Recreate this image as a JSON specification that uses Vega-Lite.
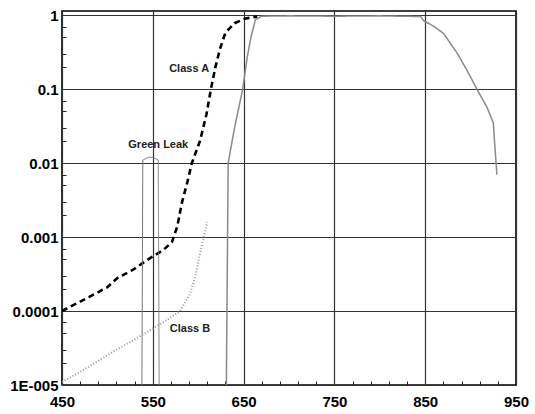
{
  "$schema": "https://vega.github.io/schema/vega-lite/v6.json",
  "width": 454,
  "height": 374,
  "autosize": {"type": "none"},
  "padding": {"left": 62, "top": 11, "right": 19, "bottom": 29},
  "background": "white",
  "config": {
    "view": {"stroke": "black", "strokeWidth": 1.6},
    "axis": {
      "labelFont": "Liberation Sans",
      "labelFontWeight": "bold",
      "labelFontSize": 15,
      "labelColor": "black",
      "gridColor": "#333",
      "gridWidth": 1.2,
      "domain": false,
      "ticks": true,
      "tickColor": "#222",
      "tickWidth": 1,
      "tickSize": -4,
      "tickCount": 40,
      "labelOverlap": false,
      "title": null
    }
  },
  "datasets": {
    "curves": [
      {"curve": "A", "nm": 450, "t": 0.0001},
      {"curve": "A", "nm": 465, "t": 0.000125},
      {"curve": "A", "nm": 480, "t": 0.000155},
      {"curve": "A", "nm": 500, "t": 0.00021},
      {"curve": "A", "nm": 511, "t": 0.00028},
      {"curve": "A", "nm": 528, "t": 0.00036},
      {"curve": "A", "nm": 547, "t": 0.00052},
      {"curve": "A", "nm": 561, "t": 0.00066},
      {"curve": "A", "nm": 571, "t": 0.00085},
      {"curve": "A", "nm": 577, "t": 0.0014},
      {"curve": "A", "nm": 582, "t": 0.0029},
      {"curve": "A", "nm": 588, "t": 0.0055},
      {"curve": "A", "nm": 593, "t": 0.01},
      {"curve": "A", "nm": 602, "t": 0.02},
      {"curve": "A", "nm": 609, "t": 0.045},
      {"curve": "A", "nm": 614, "t": 0.1},
      {"curve": "A", "nm": 619, "t": 0.2},
      {"curve": "A", "nm": 624, "t": 0.35},
      {"curve": "A", "nm": 630, "t": 0.58},
      {"curve": "A", "nm": 640, "t": 0.78},
      {"curve": "A", "nm": 652, "t": 0.9},
      {"curve": "A", "nm": 665, "t": 0.96},
      {"curve": "B1", "nm": 450, "t": 0.000011},
      {"curve": "B1", "nm": 470, "t": 0.000015},
      {"curve": "B1", "nm": 492, "t": 0.000022},
      {"curve": "B1", "nm": 510, "t": 0.00003},
      {"curve": "B1", "nm": 528, "t": 0.00004},
      {"curve": "B1", "nm": 547, "t": 0.000055},
      {"curve": "B1", "nm": 565, "t": 0.000075},
      {"curve": "B1", "nm": 580, "t": 0.0001},
      {"curve": "B1", "nm": 591, "t": 0.00017},
      {"curve": "B1", "nm": 597, "t": 0.0003},
      {"curve": "B1", "nm": 602, "t": 0.0006},
      {"curve": "B1", "nm": 607, "t": 0.0011},
      {"curve": "B1", "nm": 610, "t": 0.0016},
      {"curve": "B2", "nm": 631, "t": 0.00001},
      {"curve": "B2", "nm": 633, "t": 0.01},
      {"curve": "B2", "nm": 640, "t": 0.03},
      {"curve": "B2", "nm": 649, "t": 0.1},
      {"curve": "B2", "nm": 654, "t": 0.27},
      {"curve": "B2", "nm": 658, "t": 0.5},
      {"curve": "B2", "nm": 663, "t": 0.87},
      {"curve": "B2", "nm": 670, "t": 0.97},
      {"curve": "B2", "nm": 700, "t": 0.98},
      {"curve": "B2", "nm": 750, "t": 0.97},
      {"curve": "B2", "nm": 800, "t": 0.98},
      {"curve": "B2", "nm": 845, "t": 0.96},
      {"curve": "B2", "nm": 848, "t": 0.85},
      {"curve": "B2", "nm": 860, "t": 0.7},
      {"curve": "B2", "nm": 870, "t": 0.57},
      {"curve": "B2", "nm": 885, "t": 0.31},
      {"curve": "B2", "nm": 896, "t": 0.18},
      {"curve": "B2", "nm": 907, "t": 0.1},
      {"curve": "B2", "nm": 918, "t": 0.057},
      {"curve": "B2", "nm": 925, "t": 0.035},
      {"curve": "B2", "nm": 927, "t": 0.015},
      {"curve": "B2", "nm": 929, "t": 0.007},
      {"curve": "G", "nm": 538, "t": 0.00001},
      {"curve": "G", "nm": 539, "t": 0.011},
      {"curve": "G", "nm": 545, "t": 0.012},
      {"curve": "G", "nm": 550, "t": 0.012},
      {"curve": "G", "nm": 556, "t": 0.011},
      {"curve": "G", "nm": 557, "t": 0.00001}
    ],
    "labels": [
      {"text": "Class A", "nm": 590, "t": 0.186},
      {"text": "Green Leak", "nm": 556, "t": 0.0175},
      {"text": "Class B", "nm": 591, "t": 0.000057}
    ]
  },
  "layer": [
    {
      "data": {"name": "curves"},
      "mark": {"type": "line", "clip": true, "strokeJoin": "miter"},
      "encoding": {
        "x": {
          "field": "nm", "type": "quantitative",
          "scale": {"domain": [450, 950], "nice": false},
          "axis": {
            "values": [450, 470, 490, 510, 530, 550, 570, 590, 610, 630, 650, 670, 690, 710, 730, 750, 770, 790, 810, 830, 850, 870, 890, 910, 930, 950],
            "labelPadding": 13, "labelFlush": false,
            "labelExpr": "indexof([450, 550, 650, 750, 850, 950], datum.value) >= 0 ? datum.label : ''",
            "gridOpacity": {"condition": {"test": "indexof([450, 550, 650, 750, 850, 950], datum.value) >= 0", "value": 1}, "value": 0},
            "tickOpacity": {"condition": {"test": "indexof([450, 550, 650, 750, 850, 950], datum.value) >= 0", "value": 0}, "value": 1}
          }
        },
        "y": {
          "field": "t", "type": "quantitative",
          "scale": {"type": "log", "domain": [0.00001, 1.14], "nice": false},
          "axis": {
            "values": [0.00001, 0.00002, 0.00003, 0.00005, 0.00007, 0.0001, 0.0002, 0.0003, 0.0005, 0.0007, 0.001, 0.002, 0.003, 0.005, 0.007, 0.01, 0.02, 0.03, 0.05, 0.07, 0.1, 0.2, 0.3, 0.5, 0.7, 1],
            "labelPadding": 8,
            "labelFlush": false,
            "labelExpr": "abs(log(datum.value)/log(10) - round(log(datum.value)/log(10))) > 0.01 ? '' : datum.value < 2e-5 ? '1E-005' : datum.value < 2e-4 ? '0.0001' : datum.value < 2e-3 ? '0.001' : datum.value < 0.02 ? '0.01' : datum.value < 0.2 ? '0.1' : '1'",
            "gridOpacity": {"condition": {"test": "abs(log(datum.value)/log(10) - round(log(datum.value)/log(10))) < 0.01", "value": 1}, "value": 0},
            "tickOpacity": {"condition": {"test": "abs(log(datum.value)/log(10) - round(log(datum.value)/log(10))) < 0.01", "value": 0}, "value": 1}
          }
        },
        "detail": {"field": "curve"},
        "color": {
          "field": "curve", "type": "nominal", "legend": null,
          "scale": {"domain": ["A", "B1", "B2", "G"], "range": ["#000000", "#999999", "#8c8c8c", "#777777"]}
        },
        "strokeDash": {
          "field": "curve", "type": "nominal", "legend": null,
          "scale": {"domain": ["A", "B1", "B2", "G"], "range": [[6, 4], [1, 2], [1, 0], [1, 0]]}
        },
        "strokeWidth": {
          "field": "curve", "type": "nominal", "legend": null,
          "scale": {"domain": ["A", "B1", "B2", "G"], "range": [2.6, 1, 1.3, 1.2]}
        }
      }
    },
    {
      "data": {"name": "labels"},
      "mark": {"type": "text", "font": "Liberation Sans", "fontWeight": "bold", "fontSize": 11, "color": "#222"},
      "encoding": {
        "x": {"field": "nm", "type": "quantitative"},
        "y": {"field": "t", "type": "quantitative"},
        "text": {"field": "text"}
      }
    }
  ]
}
